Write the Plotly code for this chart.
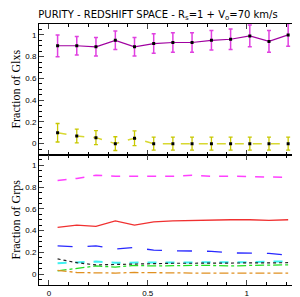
import plotly.graph_objects as go
from plotly.subplots import make_subplots

x = [0.044, 0.141, 0.238, 0.336, 0.433, 0.530, 0.627, 0.724, 0.822, 0.919, 1.016, 1.113, 1.210]

glx_pure = [0.90, 0.90, 0.89, 0.95, 0.89, 0.92, 0.93, 0.93, 0.95, 0.96, 0.99, 0.94, 1.00]
glx_pure_err = [0.10, 0.085, 0.085, 0.085, 0.085, 0.09, 0.09, 0.09, 0.09, 0.095, 0.10, 0.10, 0.105]
glx_cont = [0.10, 0.07, 0.055, 0.0, 0.05, 0.0, 0.0, 0.0, 0.0, 0.0, 0.0, 0.0, 0.0]
glx_cont_err = [0.085, 0.063, 0.065, 0.063, 0.068, 0.06, 0.06, 0.06, 0.06, 0.06, 0.06, 0.06, 0.06]

grp_magenta = [0.86, 0.88, 0.91, 0.90, 0.90, 0.90, 0.90, 0.91, 0.90, 0.90, 0.895, 0.89, 0.89]
grp_red = [0.43, 0.45, 0.44, 0.49, 0.45, 0.48, 0.49, 0.495, 0.50, 0.50, 0.50, 0.495, 0.50]
grp_blue = [0.26, 0.25, 0.26, 0.23, 0.245, 0.22, 0.215, 0.21, 0.21, 0.195, 0.19, 0.19, 0.175]
grp_black = [0.14, 0.105, 0.085, 0.09, 0.09, 0.095, 0.10, 0.10, 0.10, 0.10, 0.105, 0.105, 0.105]
grp_cyan = [0.10, 0.11, 0.115, 0.105, 0.105, 0.105, 0.11, 0.11, 0.11, 0.11, 0.11, 0.115, 0.115]
grp_green = [0.03, 0.055, 0.075, 0.065, 0.08, 0.075, 0.08, 0.08, 0.08, 0.075, 0.08, 0.085, 0.085]
grp_orange = [0.035, 0.015, 0.012, 0.01, 0.015, 0.012, 0.01, 0.01, 0.01, 0.01, 0.01, 0.01, 0.01]

fig = make_subplots(rows=2, cols=1, shared_xaxes=True, vertical_spacing=0)

fig.add_trace(go.Scatter(x=x, y=glx_pure, mode="lines+markers",
                         line=dict(color="#a000a0", width=1.2),
                         marker=dict(symbol="square", size=3, color="black"),
                         error_y=dict(type="data", array=glx_pure_err, color="#e040e0",
                                      thickness=1.5, width=2)), row=1, col=1)
fig.add_trace(go.Scatter(x=x, y=glx_cont, mode="lines+markers",
                         line=dict(color="#d8d830", width=1.5, dash="dash"),
                         marker=dict(symbol="square", size=3, color="black"),
                         error_y=dict(type="data", array=glx_cont_err, color="#c8c800",
                                      thickness=1.3, width=2)), row=1, col=1)

bottom = [
    (grp_magenta, "#ff40ff", "dash", 1.5),
    (grp_red, "#f03030", "solid", 1.3),
    (grp_blue, "#2828ff", "longdash", 1.3),
    (grp_cyan, "#40f0f0", "dash", 2.0),
    (grp_green, "#20e020", "dashdot", 1.3),
    (grp_black, "#202020", "dot", 1.2),
    (grp_orange, "#e09020", "dashdot", 1.3),
]
for ys, c, d, w in bottom:
    fig.add_trace(go.Scatter(x=x, y=ys, mode="lines", line=dict(color=c, dash=d, width=w)),
                  row=2, col=1)

axis_common = dict(showline=True, linecolor="black", linewidth=1, mirror="ticks",
                   ticks="inside", showgrid=False, zeroline=False,
                   tickfont=dict(family="Liberation Sans", size=8, color="black"))

fig.update_xaxes(range=[-0.05, 1.28], dtick=0.5, tick0=0, ticklen=5,
                 minor=dict(ticks="inside", dtick=0.1, ticklen=3, tickcolor="black"),
                 **axis_common)
fig.update_yaxes(range=[-0.1, 1.1], dtick=0.2, tick0=0, ticklen=5,
                 minor=dict(ticks="inside", dtick=0.05, ticklen=2.5, tickcolor="black"),
                 **axis_common)
fig.update_yaxes(title=dict(text="Fraction of Glxs", font=dict(family="Liberation Serif", size=12, color="black"), standoff=2), row=1, col=1)
fig.update_yaxes(title=dict(text="Fraction of Grps", font=dict(family="Liberation Serif", size=12, color="black"), standoff=2), row=2, col=1)

fig.update_layout(
    width=300, height=297,
    margin=dict(l=31, r=6, t=16, b=20),
    paper_bgcolor="white", plot_bgcolor="white",
    showlegend=False,
    title=dict(text="PURITY - REDSHIFT SPACE - R<sub>s</sub>=1 + V<sub>o</sub>=70 km/s",
               x=0.5, xanchor="center", y=0.99, yanchor="top",
               font=dict(family="DejaVu Sans", size=10, color="black")),
)

fig.write_html("out.html")
